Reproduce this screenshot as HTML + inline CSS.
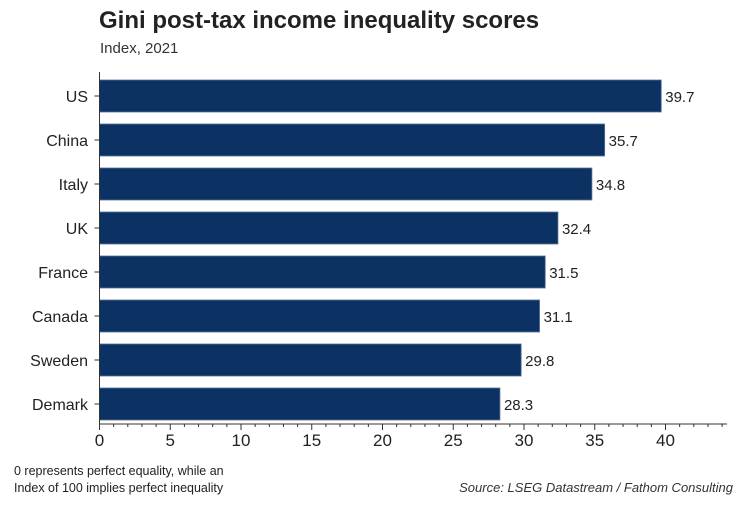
<!DOCTYPE html>
<html><head><meta charset="utf-8"><style>
body{margin:0;background:#fff;font-family:"Liberation Sans",Arial,sans-serif;}
svg text{font-family:"Liberation Sans",Arial,sans-serif;}
</style></head><body>
<svg id="chart" width="750" height="500" viewBox="0 0 750 500">
<text x="99" y="28" font-size="24" font-weight="bold" fill="#222">Gini post-tax income inequality scores</text>
<text x="100" y="53" font-size="15" fill="#333">Index, 2021</text>
<g id="plot"></g>
<text x="14" y="475" font-size="12.5" fill="#222">0 represents perfect equality, while an</text>
<text x="14" y="492" font-size="12.5" fill="#222">Index of 100 implies perfect inequality</text>
<text x="733" y="492" font-size="13" font-style="italic" fill="#333" text-anchor="end">Source: LSEG Datastream / Fathom Consulting</text>
</svg>
<script>
const categories=["US","China","Italy","UK","France","Canada","Sweden","Demark"];
const values=[39.7,35.7,34.8,32.4,31.5,31.1,29.8,28.3];
const tickLabels=[0,5,10,15,20,25,30,35,40];
const ns="http://www.w3.org/2000/svg";
const g=document.getElementById("plot");
const x0=99.5,pxPer=14.15,axisY=424,top0=80,step=44,barH=32,axisEnd=727;
const xs=v=>x0+v*pxPer;
function mk(t,a){const e=document.createElementNS(ns,t);for(const k in a)e.setAttribute(k,a[k]);g.appendChild(e);return e;}
categories.forEach((c,i)=>{
 const y=top0+i*step;
 const r=mk("rect",{x:x0,y:y,width:xs(values[i])-x0,height:barH,fill:"#0b3262",stroke:"#5a7394","stroke-width":0.8});
 
 
 const l=mk("text",{x:xs(values[i])+4,y:y+barH/2+6,"font-size":15,fill:"#222"});l.textContent=values[i].toFixed(1);
 
 
 const cl=mk("text",{x:88,y:y+barH/2+6,"font-size":16,fill:"#222","text-anchor":"end"});cl.textContent=c;
 
 
 mk("line",{x1:x0-5,x2:x0,y1:y+barH/2,y2:y+barH/2,stroke:"#333","stroke-width":1});
});
const ya=mk("line",{x1:x0,x2:x0,y1:72,y2:axisY,stroke:"#333","stroke-width":1});


const xa=mk("line",{x1:x0,x2:axisEnd,y1:axisY,y2:axisY,stroke:"#333","stroke-width":1});


for(let v=0;xs(v)<=axisEnd;v++){mk("line",{x1:xs(v),x2:xs(v),y1:axisY,y2:axisY+(v%5==0?6:3),stroke:"#333","stroke-width":1});}
tickLabels.forEach(v=>{
 const t=mk("text",{x:xs(v),y:446,"font-size":17,fill:"#222","text-anchor":"middle"});t.textContent=v;
 
 
});
</script>
</body></html>
